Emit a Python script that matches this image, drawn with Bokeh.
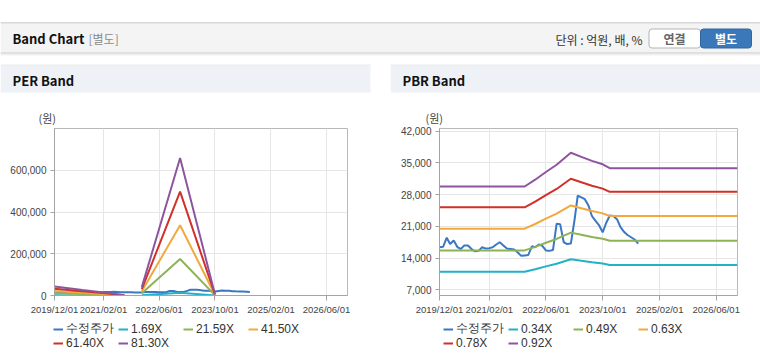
import numpy as np
import pandas as pd
from bokeh.plotting import figure
from bokeh.models import (Range1d, FixedTicker, NumeralTickFormatter, Legend, LegendItem)
from bokeh.layouts import column, row
from bokeh.embed import file_html
from bokeh.resources import INLINE
from bokeh.core.properties import value

# ---------------- data ----------------
nan = float("nan")
price_label = "수정주가"
price = [16400, 16500, 18500, 17100, 17900, 16500, 16000, 16800, 16800, 16000,
         15500, 15600, 16400, 16100, 16200, 16400, 17000, 17500, 16800, 16100,
         16000, 15900, 15300, 14500, 14600, 14700, 16600, 16400, 17000, 16700,
         15700, 15600, 15800, 21600, 21500, 17500, 17100, 17200, 22300, 27800,
         27400, 27000, 25600, 23300, 22200, 21200, 19700, 21800, 23400, 23300,
         22600, 20900, 19800, 19100, 18600, 18100, 17200]
price_dates = pd.date_range("2019-12-01", periods=len(price), freq="MS")

per_dates = ["2019-12-01", "2020-08-01", "2021-02-01", "2021-08-01", "2021-10-01",
             "2022-01-01", "2022-12-01", "2023-10-01"]
per_labels = ["1.69X", "21.59X", "41.50X", "61.40X", "81.30X"]
per_b1 = [900, 560, 310, 30, nan, 830, 13700, 140]
per_b2 = [11400, 7100, 4000, 430, nan, 10600, 174900, 1700]
per_b3 = [22000, 13700, 7700, 830, nan, 20400, 336200, 3300]
per_b4 = [32500, 20300, 11400, 1200, nan, 30200, 497300, 4900]
per_b5 = [43100, 26800, 15000, 1600, nan, 40000, 658500, 6500]

pbr_dates = ["2019-12-01", "2021-12-01", "2022-03-01", "2022-06-01", "2022-09-01",
             "2023-01-01", "2023-04-01", "2023-07-01", "2023-10-01", "2023-12-01",
             "2026-12-01"]
pbr_labels = ["0.34X", "0.49X", "0.63X", "0.78X", "0.92X"]
pbr_b1 = [11000, 11000, 11550, 12180, 12770, 13750, 13420, 13090, 12810, 12500, 12500]
pbr_b2 = [15700, 15700, 16490, 17390, 18230, 19620, 19150, 18680, 18280, 17830, 17830]
pbr_b3 = [20500, 20500, 21530, 22700, 23800, 25620, 25010, 24390, 23870, 23290, 23290]
pbr_b4 = [25200, 25200, 26470, 27910, 29260, 31500, 30740, 29980, 29340, 28620, 28620]
pbr_b5 = [29800, 29800, 31300, 33000, 34600, 37250, 36350, 35450, 34700, 33850, 33850]

x_tick_labels = ["2019/12/01", "2021/02/01", "2022/06/01", "2023/10/01", "2025/02/01", "2026/06/01"]
per_y_ticks = [0, 200000, 400000, 600000]
pbr_y_ticks = [7000, 14000, 21000, 28000, 35000, 42000]

colors = ["#3a78c4", "#22b2c6", "#8db356", "#f2a83d", "#cf3128", "#8e559f"]

KR = "Noto Sans CJK KR"
LAT = "Liberation Sans"

# ---------------- helpers ----------------
def deco_fig(w, h):
    f = figure(width=w, height=h, x_range=Range1d(0, w), y_range=Range1d(h, 0),
               output_backend="svg", toolbar_location=None, title=None,
               x_axis_location=None, y_axis_location=None, min_border=0)
    f.grid.visible = False
    f.outline_line_color = None
    f.background_fill_color = "white"
    f.border_fill_color = "white"
    return f


def txt(f, x, y, s, size="12px", color="#333", bold=False, align="left"):
    f.text(x=[x], y=[y], text=[s], text_font=value(KR), text_font_size=size,
           text_color=color, text_font_style="bold" if bold else "normal",
           text_baseline="middle", text_align=align)


# ---------------- header ----------------
hdr = deco_fig(760, 64)
hdr.segment(x0=[0], y0=[22.5], x1=[760], y1=[22.5], line_color="#b2b2b2", line_width=1)
hdr.quad(left=[0], right=[760], top=[23], bottom=[52], fill_color="#f4f4f4", line_color=None)
hdr.segment(x0=[0], y0=[52.5], x1=[760], y1=[52.5], line_color="#c4c4c4", line_width=1)
hdr.segment(x0=[0], y0=[53.5], x1=[760], y1=[53.5], line_color="#e2e2e2", line_width=1)
hdr.segment(x0=[0], y0=[54.5], x1=[760], y1=[54.5], line_color="#f2f2f2", line_width=1)
txt(hdr, 12, 38, "Band Chart", size="13px", color="#111", bold=True)
txt(hdr, 88, 38, "[별도]", size="12px", color="#8a8a8a")
txt(hdr, 642, 39, "단위 : 억원, 배, %", size="12px", color="#333", align="right")
hdr.quad(left=[648.5], right=[700], top=[28.5], bottom=[47.5], fill_color="white",
         line_color="#b4b4b4", border_radius=3)
hdr.quad(left=[700], right=[751], top=[28.5], bottom=[47.5], fill_color="#3b78b9",
         line_color="#2f67a3", border_radius=3)
txt(hdr, 674, 38, "연결", size="12px", color="#666", bold=True, align="center")
txt(hdr, 725.5, 38, "별도", size="12px", color="white", bold=True, align="center")


# ---------------- section headers ----------------
def section(w, title, unit_x):
    s = deco_fig(w, 61)
    right = 370
    s.segment(x0=[0], y0=[0.5], x1=[right], y1=[0.5], line_color="#d6d6d6", line_width=1)
    s.quad(left=[0], right=[right], top=[1], bottom=[28], fill_color="#eef2f7", line_color=None)
    txt(s, 12, 16, title, size="13px", color="#111", bold=True)
    txt(s, unit_x, 53, "(원)", size="11px", color="#444")
    return s


secL = section(390, "PER Band", 38)
secR = section(370, "PBR Band", 35)

# ---------------- charts ----------------
x0 = pd.Timestamp("2019-12-01")
x1 = pd.Timestamp("2026-12-01")
tick_ms = [int(pd.Timestamp(t.replace("/", "-")).value // 10**6) for t in x_tick_labels]


def chart(w, left, right, ys, ye, yticks):
    p = figure(width=w, height=193, x_axis_type="datetime",
               x_range=Range1d(x0, x1), y_range=Range1d(ys, ye),
               output_backend="svg", toolbar_location=None, title=None,
               min_border_left=left, min_border_right=right,
               min_border_top=3, min_border_bottom=23)
    p.background_fill_color = "white"
    p.border_fill_color = "white"
    p.outline_line_color = "#b8b8b8"
    p.xaxis.ticker = FixedTicker(ticks=tick_ms)
    p.xaxis.major_label_overrides = {t: l for t, l in zip(tick_ms, x_tick_labels)}
    p.xgrid.ticker = FixedTicker(ticks=tick_ms)
    p.yaxis.ticker = FixedTicker(ticks=yticks)
    p.ygrid.ticker = FixedTicker(ticks=yticks)
    p.yaxis.formatter = NumeralTickFormatter(format="0,0")
    for ax in (p.xaxis, p.yaxis):
        ax.axis_line_color = "#a4a4a4"
        ax.major_tick_line_color = "#a4a4a4"
        ax.minor_tick_line_color = None
        ax.major_tick_in = 0
        ax.major_label_text_font = LAT
        ax.major_label_text_color = "#444"
    p.xaxis.major_label_text_font_size = "9.5px"
    p.yaxis.major_label_text_font_size = "10px"
    p.xaxis.major_tick_out = 5
    p.xaxis.major_label_standoff = 3
    p.yaxis.major_tick_out = 4
    p.yaxis.major_label_standoff = 4
    p.grid.grid_line_color = "#e6e6e6"
    return p


def add_lines(p, band_dates, bands):
    p.line(price_dates, price, line_color=colors[0], line_width=2)
    bd = pd.to_datetime(band_dates)
    for i, b in enumerate(bands):
        p.line(bd, b, line_color=colors[i + 1], line_width=2)


def legend_fig(w, labels):
    f = deco_fig(w, 43)
    names = [price_label] + labels
    # off-screen key renderers: only used to draw the legend swatches
    keys = [f.line(x=[-50, -40], y=[-50, -50], line_color=c, line_width=2) for c in colors]
    items = [LegendItem(label=n, renderers=[r]) for n, r in zip(names, keys)]
    for chunk, vy in ((items[:4], 24), (items[4:], 11)):
        f.add_layout(Legend(items=chunk, location=(53, vy), orientation="horizontal",
                            glyph_width=10, glyph_height=12, label_standoff=3,
                            label_width=52, label_height=12, spacing=0, padding=0,
                            margin=0, background_fill_alpha=0, border_line_color=None,
                            label_text_font=LAT, label_text_font_size="12px",
                            label_text_color="#333"))
    return f


perC = chart(390, 54, 43, 0, 800000, per_y_ticks)
add_lines(perC, per_dates, [per_b1, per_b2, per_b3, per_b4, per_b5])

pbrC = chart(370, 49, 23, 5750, 42600, pbr_y_ticks)
add_lines(pbrC, pbr_dates, [pbr_b1, pbr_b2, pbr_b3, pbr_b4, pbr_b5])

legL = legend_fig(390, per_labels)
legR = legend_fig(370, pbr_labels)

bot = deco_fig(760, 3)
bot.segment(x0=[0, 390], y0=[1.5, 1.5], x1=[370, 760], y1=[1.5, 1.5],
            line_color="#d4d4d4", line_width=2)

layout = column(hdr, row(secL, secR), row(perC, pbrC), row(legL, legR), bot)

open("out.html", "w").write(file_html(layout, INLINE))
